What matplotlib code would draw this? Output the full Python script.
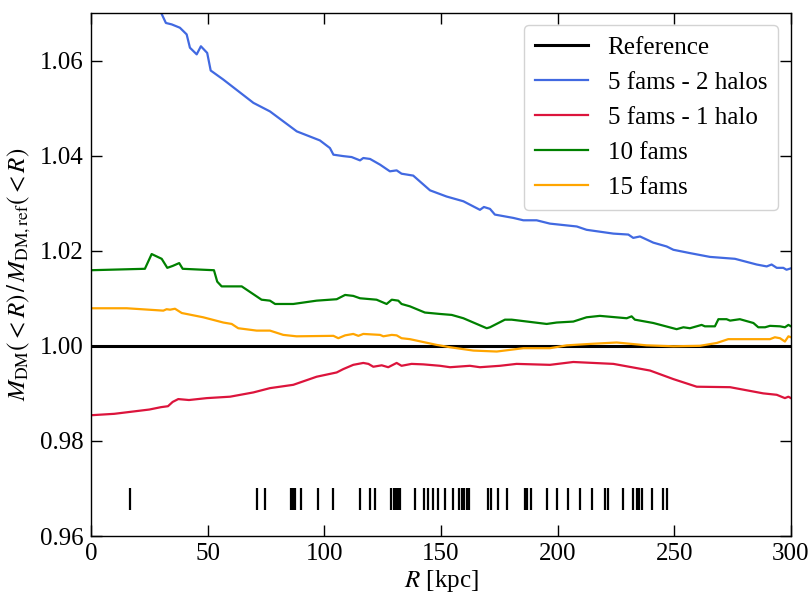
import matplotlib
matplotlib.use("Agg")
import matplotlib.pyplot as plt
import numpy as np

plt.rcParams['font.family'] = ['Liberation Serif', 'DejaVu Serif']
plt.rcParams['mathtext.fontset'] = 'stix'

# ---- data ----
r_blue = [0, 15, 30.0, 32.1, 34.6, 38.1, 41.0, 42.4, 45.3, 47.1, 49.8, 51.3, 56.7, 69.6, 76.7, 88.2, 98.1,
          102.4, 103.9, 108.1, 111.7, 115.3, 116.7, 119.6, 123.9, 128.1, 131.0, 133.1, 138.1, 145.3, 152.4,
          159.6, 166.7, 168.4, 171.0, 173.1, 181.0, 185.3, 191.0, 196.7, 208.2, 212.4, 223.9, 230.3, 232.4,
          235.3, 241.0, 246.7, 249.6, 256.7, 265.3, 276.0, 285.3, 289.6, 291.7, 293.9, 296.7, 298.1, 300.0]
v_blue = [1.083, 1.076, 1.0701, 1.0679, 1.0676, 1.0669, 1.0655, 1.0627, 1.0613, 1.0630, 1.0616, 1.0579, 1.0560,
          1.0511, 1.0493, 1.0451, 1.0432, 1.0416, 1.0402, 1.0399, 1.0397, 1.0390, 1.0395, 1.0393, 1.0381, 1.0367,
          1.0369, 1.0362, 1.0358, 1.0327, 1.0314, 1.0304, 1.0286, 1.0292, 1.0288, 1.0276, 1.0269, 1.0264, 1.0264,
          1.0257, 1.0251, 1.0244, 1.0236, 1.0234, 1.0227, 1.0230, 1.0217, 1.0209, 1.0202, 1.0195, 1.0187, 1.0183,
          1.0171, 1.0167, 1.0171, 1.0164, 1.0164, 1.0160, 1.0163]

r_red = [0, 10, 20, 25, 30, 33, 35, 37.4, 42, 49.6, 59.6, 69.6, 76.7, 86.7, 96.7, 105.3, 108.1, 112.4, 116.7,
         118.9, 121.0, 124.6, 127.4, 131.0, 133.1, 137.4, 142.4, 149.6, 153.9, 162.4, 166.7, 175.3, 182.4,
         196.7, 206.7, 223.9, 239.6, 249.6, 259.6, 273.9, 288.1, 293.9, 297.4, 298.9, 300.0]
v_red = [0.9854, 0.9857, 0.9863, 0.9866, 0.9871, 0.9873, 0.9882, 0.9888, 0.9886, 0.9890, 0.9893, 0.9902,
         0.9911, 0.9918, 0.9935, 0.9944, 0.9951, 0.9960, 0.9964, 0.9962, 0.9956, 0.9959, 0.9955, 0.9964,
         0.9958, 0.9962, 0.9961, 0.9958, 0.9955, 0.9958, 0.9955, 0.9958, 0.9962, 0.9960, 0.9966, 0.9962,
         0.9948, 0.9930, 0.9914, 0.9913, 0.9900, 0.9897, 0.9890, 0.9893, 0.9890]

r_green = [0, 23.1, 26.0, 30.3, 32.7, 35.0, 37.8, 39.3, 48.1, 52.7, 54.1, 56.0, 64.6, 73.1, 76.7, 78.9, 86.7,
           96.7, 105.3, 108.9, 112.4, 115.3, 122.4, 126.7, 128.9, 131.7, 133.1, 136.7, 143.1, 149.6, 154.6,
           159.6, 169.6, 171.0, 177.4, 180.3, 195.3, 199.6, 206.7, 212.4, 218.1, 229.6, 231.7, 233.1, 241.0,
           251.0, 253.9, 256.7, 261.7, 263.1, 267.4, 268.9, 272.4, 273.9, 278.1, 283.9, 286.0, 288.9, 291.0,
           295.3, 297.4, 298.9, 300.0]
v_green = [1.0159, 1.0162, 1.0193, 1.0183, 1.0164, 1.0168, 1.0174, 1.0162, 1.0160, 1.0159, 1.0135, 1.0125,
           1.0125, 1.0097, 1.0095, 1.0088, 1.0088, 1.0095, 1.0098, 1.0107, 1.0105, 1.0100, 1.0097, 1.0088,
           1.0097, 1.0095, 1.0088, 1.0083, 1.0070, 1.0067, 1.0065, 1.0058, 1.0037, 1.0039, 1.0055, 1.0055,
           1.0046, 1.0049, 1.0051, 1.0060, 1.0063, 1.0058, 1.0062, 1.0055, 1.0048, 1.0035, 1.0039, 1.0037,
           1.0044, 1.0041, 1.0041, 1.0056, 1.0056, 1.0053, 1.0056, 1.0048, 1.0039, 1.0039, 1.0042, 1.0041,
           1.0039, 1.0044, 1.0041]

r_orange = [0, 15.3, 31.0, 32.4, 33.9, 36.0, 38.9, 48.1, 56.7, 60.3, 63.1, 71.0, 76.7, 82.4, 88.1, 103.9,
            106.0, 108.9, 112.4, 114.6, 116.7, 123.9, 125.3, 128.9, 131.0, 133.1, 136.7, 148.1, 153.9, 156.7,
            163.9, 173.9, 185.3, 196.7, 203.9, 213.9, 225.3, 238.1, 249.6, 261.0, 268.2, 273.1, 281.0, 291.0,
            293.1, 295.3, 297.4, 298.9, 300.0]
v_orange = [1.0079, 1.0079, 1.0074, 1.0077, 1.0076, 1.0078, 1.0069, 1.0060, 1.0049, 1.0046, 1.0037, 1.0032,
            1.0032, 1.0023, 1.0020, 1.0021, 1.0016, 1.0022, 1.0025, 1.0021, 1.0025, 1.0023, 1.0020, 1.0023,
            1.0022, 1.0016, 1.0014, 1.0002, 0.9997, 0.9995, 0.9990, 0.9988, 0.9995, 0.9995, 1.0001, 1.0004,
            1.0007, 1.0001, 0.9999, 1.0000, 1.0006, 1.0014, 1.0014, 1.0014, 1.0018, 1.0016, 1.0009, 1.0020,
            1.0018]

rug_r = [16.7, 71.3, 74.5, 85.7, 86.5, 87.6, 90.1, 97.4, 103.6, 115.5, 119.4, 121.8, 128.6, 129.9, 130.7,
         131.6, 132.6, 138.8, 142.6, 144.5, 146.7, 148.8, 151.7, 155.3, 157.9, 158.9, 159.9, 161.0, 162.0,
         170.3, 171.3, 174.6, 178.1, 186.0, 187.0, 188.4, 195.6, 199.6, 204.6, 209.6, 214.6, 220.3, 221.7,
         228.1, 232.4, 233.9, 234.9, 236.0, 240.3, 245.3, 246.7]

labels = ["Reference", "5 fams - 2 halos", "5 fams - 1 halo", "10 fams", "15 fams"]
colors = ["black", "royalblue", "crimson", "green", "orange"]

fig = plt.figure(figsize=(8.11, 5.93), dpi=100)
ax = fig.add_axes([0.1122, 0.0961, 0.8631, 0.8820])

ax.axhline(1.0, color=colors[0], lw=2.2, label=labels[0])
ax.plot(r_blue, v_blue, color=colors[1], lw=1.6, label=labels[1])
ax.plot(r_red, v_red, color=colors[2], lw=1.6, label=labels[2])
ax.plot(r_green, v_green, color=colors[3], lw=1.6, label=labels[3])
ax.plot(r_orange, v_orange, color=colors[4], lw=1.6, label=labels[4])

ax.vlines(rug_r, 0.9655, 0.9700, color='black', lw=1.6)

ax.set_xlim(0, 300)
ax.set_ylim(0.96, 1.07)
ax.set_yticks([0.96, 0.98, 1.00, 1.02, 1.04, 1.06])
ax.set_xticks([0, 50, 100, 150, 200, 250, 300])
ax.yaxis.set_major_formatter(matplotlib.ticker.FormatStrFormatter('%.2f'))

ax.tick_params(direction='in', top=True, right=True, length=8, width=1, labelsize=18)
ax.tick_params(axis='y', pad=5)
ax.tick_params(axis='x', pad=5)
for s in ax.spines.values():
    s.set_linewidth(1.0)

ax.set_xlabel(r'$R$ [kpc]', fontsize=18, labelpad=2)
ax.set_ylabel(r'$M_{\rm DM}(<R)\,/\,M_{\rm DM,ref}(<R)$', fontsize=18, labelpad=5)

ax.legend(loc='upper right', fontsize=18, handlelength=2.1, frameon=True, framealpha=1.0,
          edgecolor='lightgray', borderpad=0.45, labelspacing=0.5, handletextpad=0.8)

fig.savefig('out.png', dpi=100)
